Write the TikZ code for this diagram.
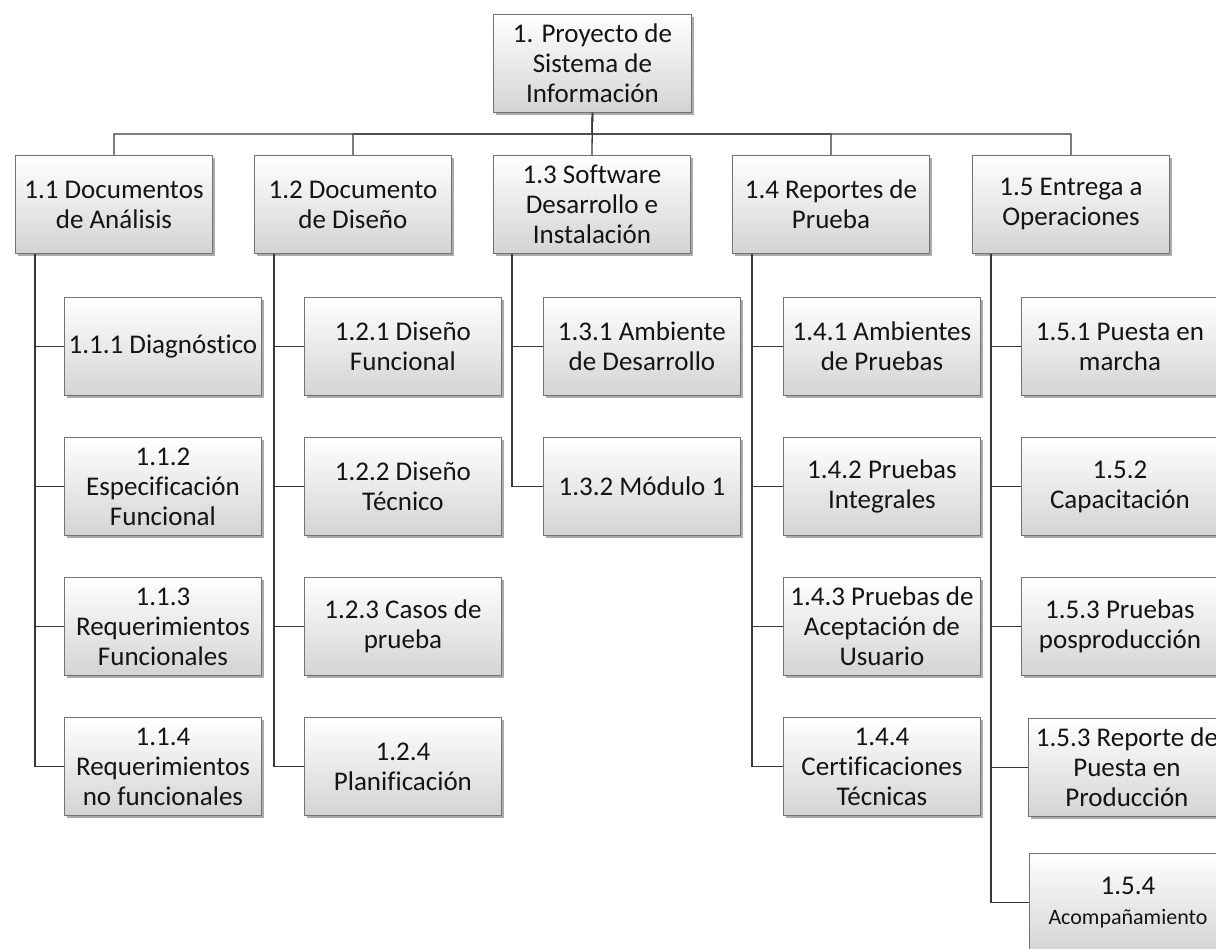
\documentclass[tikz,border=0pt]{standalone}
\usepackage{fontspec}
\setmainfont{Carlito}[Ligatures=NoCommon]
\usetikzlibrary{shadows,calc}
\begin{document}
\begin{tikzpicture}[x=1pt,y=-1pt,
  box/.style={draw=black!55, line width=0.9pt, top color=white, bottom color=black!17,
    minimum width=197pt, minimum height=98pt, inner sep=0pt, align=center,
    anchor=north west, font=\fontsize{27}{30}\selectfont, text=black!92,
    drop shadow={shadow xshift=2.5pt, shadow yshift=-3pt, opacity=0.5, fill=black!65}},
  conn/.style={draw=black!78, line width=1.3pt}]
\clip (0,0) rectangle (1216,949);
\fill[white] (0,0) rectangle (1216,949);

% root and level 1
\node[box, minimum width=198pt] (top) at (493,14) {1. Proyecto de\\Sistema de\\Información};
\node[box] (b11) at (15,155) {1.1 Documentos\\de Análisis};
\node[box] (b12) at (254,155) {1.2 Documento\\de Diseño};
\node[box] (b13) at (493,155) {1.3 Software\\Desarrollo e\\Instalación};
\node[box] (b14) at (732,155) {1.4 Reportes de\\Prueba};
\node[box] (b15) at (972,155) {1.5 Entrega a\\Operaciones};

% 1.1 children
\node[box] (c111) at (64,297) {1.1.1 Diagnóstico};
\node[box] (c112) at (64,437) {1.1.2\\Especificación\\Funcional};
\node[box] (c113) at (64,577) {1.1.3\\Requerimientos\\Funcionales};
\node[box] (c114) at (64,717) {1.1.4\\Requerimientos\\no funcionales};
% 1.2 children
\node[box] (c121) at (304,297) {1.2.1 Diseño\\Funcional};
\node[box] (c122) at (304,437) {1.2.2 Diseño\\Técnico};
\node[box] (c123) at (304,577) {1.2.3 Casos de\\prueba};
\node[box] (c124) at (304,717) {1.2.4\\Planificación};
% 1.3 children
\node[box] (c131) at (543,297) {1.3.1 Ambiente\\de Desarrollo};
\node[box] (c132) at (543,437) {1.3.2 Módulo 1};
% 1.4 children
\node[box] (c141) at (783,297) {1.4.1 Ambientes\\de Pruebas};
\node[box] (c142) at (783,437) {1.4.2 Pruebas\\Integrales};
\node[box] (c143) at (783,577) {1.4.3 Pruebas de\\Aceptación de\\Usuario};
\node[box] (c144) at (783,717) {1.4.4\\Certificaciones\\Técnicas};
% 1.5 children
\node[box] (c151) at (1021,297) {1.5.1 Puesta en\\marcha};
\node[box] (c152) at (1021,437) {1.5.2\\Capacitación};
\node[box] (c153) at (1021,577) {1.5.3 Pruebas\\posproducción};
\node[box] (c154) at (1028,718) {1.5.3 Reporte de\\Puesta en\\Producción};
\node[box] (c155) at (1029,853) {1.5.4\\{\fontsize{22}{24}\selectfont Acompañamiento}};

% root connectors
\coordinate (bus) at ($(top.south)!0.5!(b13.north)$);
\draw[conn] (top.south) -- (bus) -| (b11.north);
\draw[conn] (top.south) -- (bus) -| (b12.north);
\draw[conn] (top.south) -- (b13.north);
\draw[conn] (top.south) -- (bus) -| (b14.north);
\draw[conn] (top.south) -- (bus) -| (b15.north);

% trunks
\coordinate (t11) at ($(b11.south west)+(20,0)$);
\coordinate (t12) at ($(b12.south west)+(20,0)$);
\coordinate (t13) at ($(b13.south west)+(19,0)$);
\coordinate (t14) at ($(b14.south west)+(20,0)$);
\coordinate (t15) at ($(b15.south west)+(19,0)$);

\draw[conn] (t11) |- (c111.west);
\draw[conn] (t11) |- (c112.west);
\draw[conn] (t11) |- (c113.west);
\draw[conn] (t11) |- (c114.west);

\draw[conn] (t12) |- (c121.west);
\draw[conn] (t12) |- (c122.west);
\draw[conn] (t12) |- (c123.west);
\draw[conn] (t12) |- (c124.west);

\draw[conn] (t13) |- (c131.west);
\draw[conn] (t13) |- (c132.west);

\draw[conn] (t14) |- (c141.west);
\draw[conn] (t14) |- (c142.west);
\draw[conn] (t14) |- (c143.west);
\draw[conn] (t14) |- (c144.west);

\draw[conn] (t15) |- (c151.west);
\draw[conn] (t15) |- (c152.west);
\draw[conn] (t15) |- (c153.west);
\draw[conn] (t15) |- (c154.west);
\draw[conn] (t15) |- (c155.west);
\end{tikzpicture}
\end{document}
